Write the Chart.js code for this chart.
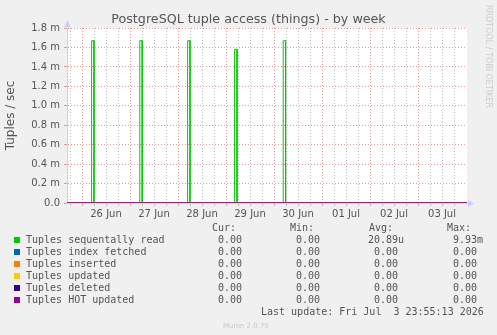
<!DOCTYPE html>
<html>
<head>
<meta charset="utf-8">
<script src="https://cdn.jsdelivr.net/npm/chart.js@4/dist/chart.umd.min.js"></script>
<style>
    body { margin: 0; background: #f0f0f0; }
    #wrap { position: relative; width: 497px; height: 335px; overflow: hidden; }
    .t { position: absolute; font-family: 'DejaVu Sans Mono', monospace; font-size: 10px; color: #555; white-space: pre; line-height: 12px; }
    .r { text-align: right; }
    .sq { position: absolute; width: 6px; height: 6px; }
</style>
</head>
<body>
<div id="wrap">
    <canvas id="chart" width="497" height="335"></canvas>
    <div id="legend"></div>
</div>
<script>
// x values are hours counted from 26 Jun 00:00
const xMin = -7.5;
const xMax = 192.5;
const dayLabels = ['26 Jun', '27 Jun', '28 Jun', '29 Jun', '30 Jun', '01 Jul', '02 Jul', '03 Jul'];
const gridHours = [-6, 0, 6, 12, 18, 24, 30, 36, 42, 48, 54, 60, 66, 72, 78, 84, 90, 96, 102, 108, 114, 120,
    126, 132, 138, 144, 150, 156, 162, 168, 174, 180, 186];
const yGrid = [0, 0.1, 0.2, 0.3, 0.4, 0.5, 0.6, 0.7, 0.8, 0.9, 1.0, 1.1, 1.2, 1.3, 1.4, 1.5, 1.6, 1.7, 1.8];
const yTickLabels = ['0.0', '0.2 m', '0.4 m', '0.6 m', '0.8 m', '1.0 m', '1.2 m', '1.4 m', '1.6 m', '1.8 m'];

// spikes of "Tuples sequentally read" (values in milli)
const spikeHours = [4.8, 28.9, 52.8, 76.3, 100.6];
const spikeValues = [1.67, 1.67, 1.67, 1.58, 1.67];

const seriesNames = ['Tuples sequentally read', 'Tuples index fetched', 'Tuples inserted', 'Tuples updated', 'Tuples deleted', 'Tuples HOT updated'];
const seriesColors = ['#00cc00', '#0066b3', '#ff8000', '#ffcc00', '#330099', '#990099'];
const curValues = ['0.00', '0.00', '0.00', '0.00', '0.00', '0.00'];
const minValues = ['0.00', '0.00', '0.00', '0.00', '0.00', '0.00'];
const avgValues = ['20.89u', '0.00 ', '0.00 ', '0.00 ', '0.00 ', '0.00 '];
const maxValues = ['9.93m', '0.00 ', '0.00 ', '0.00 ', '0.00 ', '0.00 '];

const textColor = '#555';
const majorGrid = '#e89898';
const minorGrid = '#bdbdbd';
const spikeWidth = 1.2;

// build the green series from the spikes
const seqRead = [{ x: xMin, y: 0 }];
spikeHours.forEach((h, i) => {
    seqRead.push({ x: h, y: 0 }, { x: h, y: spikeValues[i] }, { x: h + spikeWidth, y: spikeValues[i] }, { x: h + spikeWidth, y: 0 });
});
seqRead.push({ x: xMax, y: 0 });

const datasets = seriesNames.map((name, i) => ({
    label: name,
    data: i === 0 ? seqRead : [{ x: xMin, y: 0 }, { x: xMax, y: 0 }],
    borderColor: seriesColors[i],
    borderWidth: 1,
    pointRadius: 0,
    fill: false,
    tension: 0,
    order: seriesNames.length - 1 - i
}));

const bgPlugin = {
    id: 'bg',
    beforeDraw(chart) {
        const { ctx, chartArea: a } = chart;
        ctx.save();
        ctx.fillStyle = '#fff';
        ctx.fillRect(a.left, a.top, a.right - a.left, a.bottom - a.top);
        ctx.restore();
    },
    afterDraw(chart) {
        // axis arrows
        const { ctx, chartArea: a } = chart;
        ctx.save();
        ctx.fillStyle = '#ccccff';
        ctx.beginPath();
        ctx.moveTo(a.left - 3, a.top - 1);
        ctx.lineTo(a.left + 3.5, a.top - 1);
        ctx.lineTo(a.left + 0.5, a.top - 8);
        ctx.fill();
        ctx.beginPath();
        ctx.moveTo(a.right + 1, a.bottom - 3);
        ctx.lineTo(a.right + 1, a.bottom + 4);
        ctx.lineTo(a.right + 7, a.bottom + 0.5);
        ctx.fill();
        // rrdtool credit
        ctx.translate(488, 5);
        ctx.rotate(Math.PI / 2);
        ctx.fillStyle = '#cccccc';
        ctx.font = '8px "DejaVu Sans"';
        ctx.textBaseline = 'middle';
        ctx.fillText('RRDTOOL / TOBI OETIKER', 0, 0);
        ctx.restore();
    }
};

new Chart(document.getElementById('chart'), {
    type: 'line',
    data: { datasets: datasets },
    options: {
        responsive: false,
        animation: false,
        layout: { padding: 0 },
        plugins: {
            legend: { display: false },
            tooltip: { enabled: false },
            title: {
                display: true,
                text: 'PostgreSQL tuple access (things) - by week',
                color: textColor,
                font: { family: 'DejaVu Sans', size: 12.7, weight: 'normal' },
                padding: { top: 12, bottom: 0.8 }
            }
        },
        scales: {
            x: {
                type: 'linear',
                min: xMin,
                max: xMax,
                afterBuildTicks: (s) => { s.ticks = gridHours.map(v => ({ value: v })); },
                afterFit: (s) => { s.height = 132; },
                ticks: {
                    autoSkip: false,
                    maxRotation: 0,
                    padding: 2,
                    color: textColor,
                    font: { family: 'DejaVu Sans', size: 10 },
                    callback: (v) => {
                        const d = Math.floor(v / 24);
                        return (v - d * 24 === 12 && dayLabels[d]) ? dayLabels[d] : '';
                    }
                },
                grid: {
                    color: (c) => (c.tick && c.tick.value % 24 === 0) ? majorGrid : minorGrid,
                    tickLength: 3,
                    lineWidth: 1
                },
                border: { color: '#ccccff', dash: [1, 2] }
            },
            y: {
                min: 0,
                max: 1.8,
                afterBuildTicks: (s) => { s.ticks = yGrid.map(v => ({ value: v })); },
                afterFit: (s) => { s.width = 67; },
                ticks: {
                    padding: 4,
                    color: textColor,
                    font: { family: 'DejaVu Sans', size: 10 },
                    callback: (v) => {
                        const i = Math.round(v * 10);
                        return i % 2 === 0 ? yTickLabels[i / 2] : '';
                    }
                },
                grid: {
                    color: (c) => (c.tick && Math.round(c.tick.value * 10) % 2 === 0) ? majorGrid : minorGrid,
                    tickLength: 3,
                    lineWidth: 1
                },
                border: { color: '#ccccff', dash: [1, 2] },
                title: {
                    display: true,
                    text: 'Tuples / sec',
                    color: textColor,
                    font: { family: 'DejaVu Sans', size: 12 },
                    padding: { top: 4, bottom: 0 }
                }
            },
            // empty right margin, keeps the title centred on the whole image
            yRight: {
                position: 'right',
                min: 0,
                max: 1.8,
                afterFit: (s) => { s.width = 30; },
                ticks: { display: false },
                grid: { display: false },
                border: { display: false }
            }
        }
    },
    plugins: [bgPlugin]
});

// legend below the plot
const legend = document.getElementById('legend');
let html = '';
html += '<div class="t" style="left:212px;top:222px">Cur:</div>';
html += '<div class="t" style="left:290px;top:222px">Min:</div>';
html += '<div class="t" style="left:369px;top:222px">Avg:</div>';
html += '<div class="t" style="left:447px;top:222px">Max:</div>';
seriesNames.forEach((name, i) => {
    const top = 234 + i * 12;
    html += `<div class="sq" style="left:14px;top:${top + 3}px;background:${seriesColors[i]}"></div>`;
    html += `<div class="t" style="left:26px;top:${top}px">${name}</div>`;
    html += `<div class="t r" style="right:${497 - 242}px;top:${top}px">${curValues[i]}</div>`;
    html += `<div class="t r" style="right:${497 - 320}px;top:${top}px">${minValues[i]}</div>`;
    html += `<div class="t r" style="right:${497 - 404}px;top:${top}px">${avgValues[i]}</div>`;
    html += `<div class="t r" style="right:${497 - 483}px;top:${top}px">${maxValues[i]}</div>`;
});
html += '<div class="t" style="left:261px;top:306px">Last update: Fri Jul  3 23:55:13 2026</div>';
html += '<div class="t" style="left:223px;top:320px;font-family:\'DejaVu Sans\';font-size:7px;color:#c8c8c8">Munin 2.0.75</div>';
legend.innerHTML = html;
</script>
</body>
</html>
